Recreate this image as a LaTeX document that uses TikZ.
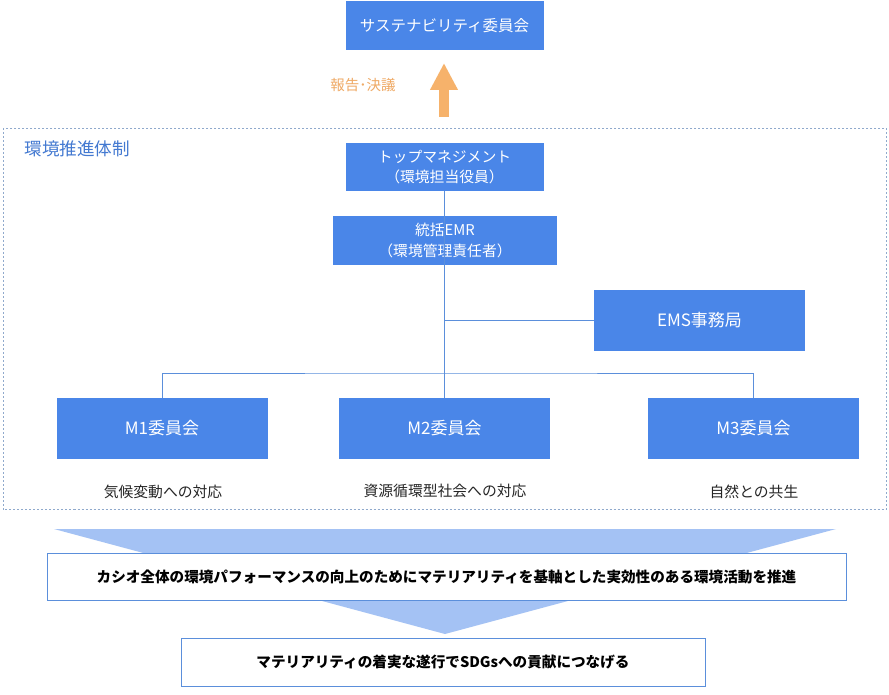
\documentclass[tikz,border=0pt]{standalone}
\usepackage{fontspec}
\setmainfont{Noto Sans CJK JP}
\usetikzlibrary{arrows.meta}
\definecolor{boxblue}{HTML}{4A86E8}
\definecolor{lineblue}{HTML}{5B8FDB}
\definecolor{framegray}{HTML}{8FA9CC}
\definecolor{funnelblue}{HTML}{A4C2F4}
\definecolor{arroworange}{HTML}{F6B26B}
\definecolor{labelorange}{HTML}{EFA964}
\tikzset{
  bluebox/.style={fill=boxblue,text=white,inner sep=0pt,align=center,font=\fontsize{14.8}{20.5}\selectfont},
  bigtext/.style={font=\fontsize{17}{20}\selectfont},
  whitebox/.style={draw=lineblue,line width=0.7pt,fill=white,inner sep=0pt,font=\bfseries\fontsize{14.6}{17}\selectfont},
  sublabel/.style={font=\fontsize{14.8}{17}\selectfont,text=black!85},
  link/.style={draw=lineblue,line width=0.9pt}
}

\begin{document}
\begin{tikzpicture}[x=1pt,y=-1pt]
            \useasboundingbox[fill=white] (0,0) rectangle (889,695);
            % frame
            \draw[framegray,line width=0.9pt,dash pattern=on 2pt off 2pt] (3,128) rectangle (886,509.5);
            \node[anchor=west,text=boxblue!90!black,font=\fontsize{17.6}{20}\selectfont] (title) at (21,149) {環境推進体制};

            \node[bluebox,minimum width=198pt,minimum height=49pt] (top) at (444.5,25.5) {\fontsize{15.5}{18}\selectfont サステナビリティ委員会};
            \coordinate (arrtail) at (444,117);
            \coordinate (arrhead) at (444,63);
            \draw[arroworange,line width=10pt,-{Triangle[width=26pt,length=27pt]}] (arrtail) -- (arrhead);
            \node[text=labelorange,font=\fontsize{14.5}{17}\selectfont] (report) at (363,85) {報告･決議};

            \node[bluebox,minimum width=198pt,minimum height=48pt] (mgmt) at (444.5,167) {トップマネジメント\\（環境担当役員）};
            \node[bluebox,minimum width=224pt,minimum height=49pt] (emr) at (445,240.5) {統括EMR\\（環境管理責任者）};
            \node[bluebox,bigtext,minimum width=211pt,minimum height=61pt] (ems) at (699.5,320.5) {EMS事務局};
            \node[bluebox,bigtext,minimum width=211pt,minimum height=61pt] (m1) at (162,428.5) {M1委員会};
            \node[bluebox,bigtext,minimum width=211pt,minimum height=61pt] (m2) at (444.5,428.5) {M2委員会};
            \node[bluebox,bigtext,minimum width=211pt,minimum height=61pt] (m3) at (753.5,428.5) {M3委員会};

            \node[sublabel] (t1) at (163,492) {気候変動への対応};
            \node[sublabel] (t2) at (445,491) {資源循環型社会への対応};
            \node[sublabel] (t3) at (754,492) {自然との共生};

            % connectors
            \coordinate (bus) at (444.5,373);
            \draw[link] (mgmt.south) -- (emr.south -| mgmt.south) ;
            \draw[link] (emr.south -| m2.north) -- (m2.north);
            \draw[link] (ems.west) -- (ems.west -| m2.north);
            \draw[link] (m1.north) |- (bus) -| (m3.north);

            % funnel
            \coordinate (fl) at (54,529);
            \coordinate (fr) at (836,529);
            \coordinate (fa) at (445,634);
            \fill[funnelblue] (fl) -- (fr) -- (fa) -- cycle;
            \node[whitebox,minimum width=799pt,minimum height=47pt] (goal) at (446.5,576.5) {カシオ全体の環境パフォーマンスの向上のためにマテリアリティを基軸とした実効性のある環境活動を推進};
            \node[whitebox,minimum width=524pt,minimum height=48pt] (sdgs) at (443,662) {マテリアリティの着実な遂行でSDGsへの貢献につなげる};
        \end{tikzpicture}
\end{document}
